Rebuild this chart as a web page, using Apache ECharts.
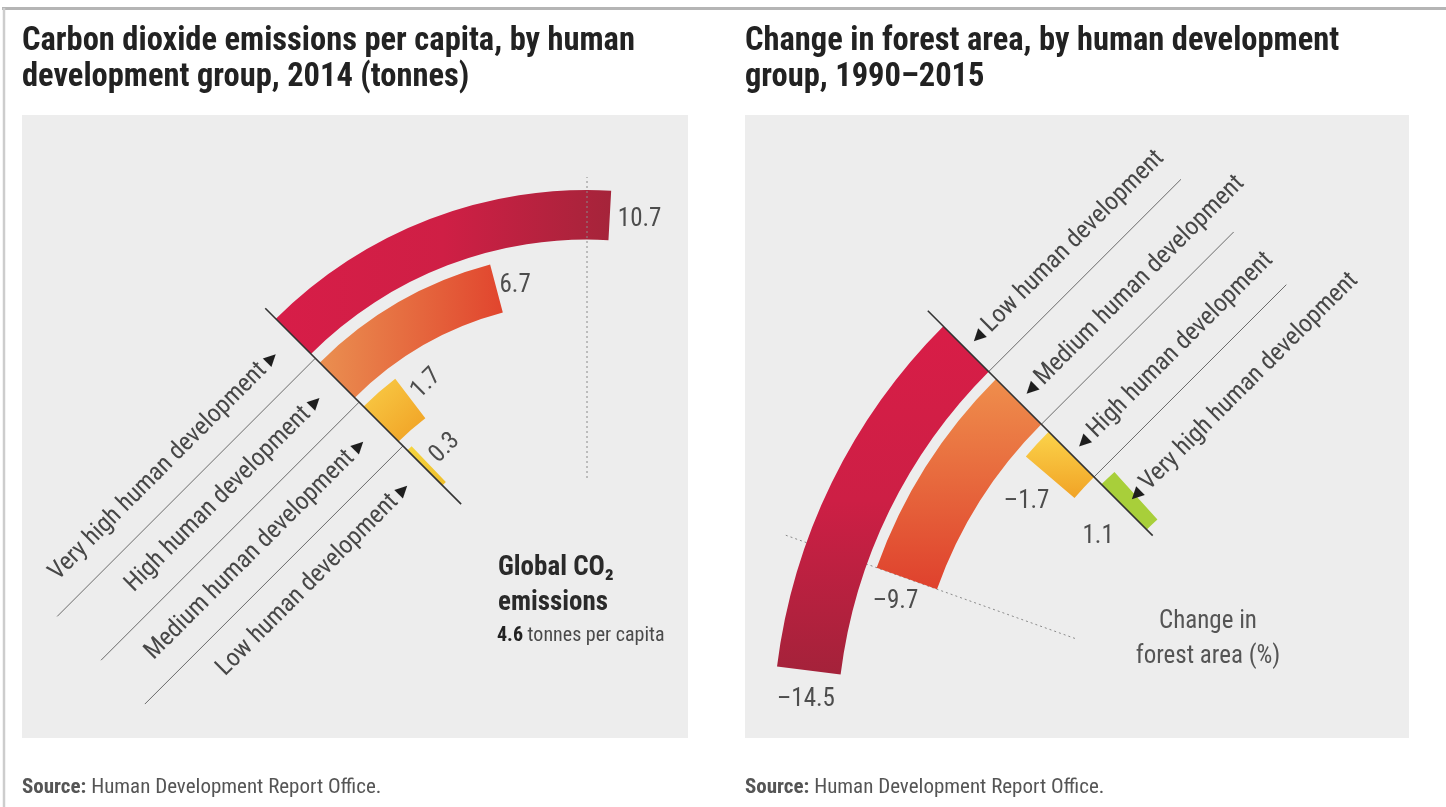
<!DOCTYPE html>
<html>
<head>
<meta charset="utf-8">
<title>Emissions and forest area by human development group</title>
<script src="https://cdn.jsdelivr.net/npm/echarts@6/dist/echarts.min.js"></script>
<style>
  html, body { margin: 0; padding: 0; background: #ffffff; }
  #chart { width: 1446px; height: 807px; }
</style>
</head>
<body>
<div id="chart"></div>
<script>
// ---------- data ----------
// groups are listed from the innermost ring to the outermost ring
const co2Groups = ['Low human development', 'Medium human development', 'High human development', 'Very high human development'];
const co2Values = [0.3, 1.7, 6.7, 10.7];          // tonnes per capita, 2014
const co2Global = 4.6;                            // world average, tonnes per capita
const co2GuideValue = 10;                         // dotted reference ray

const forestGroups = ['Very high human development', 'High human development', 'Medium human development', 'Low human development'];
const forestValues = [1.1, -1.7, -9.7, -14.5];    // % change in forest area, 1990-2015
const forestGuideValue = -9.7;                    // dotted reference ray

const titleLeft = ['Carbon dioxide emissions per capita, by human', 'development group, 2014 (tonnes)'];
const titleRight = ['Change in forest area, by human development', 'group, 1990\u20132015'];
const sourceLabel = 'Source:';
const sourceText = 'Human Development Report Office.';
const forestAxisName = ['Change in', 'forest area (%)'];

// ---------- layout & style ----------
const CONDENSED = '"Liberation Sans Narrow", "Roboto Condensed", "DejaVu Sans Condensed", Roboto, sans-serif';
const OVER = 700;   // overlay polar: radius value == pixels

const L = { cx: 587, cy: 630, r0: 198.3, r1: 446.2, gap: 0.2, min: -40, max: 40,
            axisR: [178, 455], guideR: [152, 453], leaderLen: 365, labelT: 25, dir: -1 };
const R = { cx: 1355.6, cy: 738.6, r0: 290.25, r1: 588.25, gap: 0.14, min: -68.85, max: 68.85,
            axisR: [287, 605], guideR: [298, 607], leaderLen: 272, labelT: 11, dir: 1 };

function degPerUnit(P) { return 360 / (P.max - P.min); }
function band(P) { return (P.r1 - P.r0) / 4; }
function ringInner(P, i) { return P.r0 + i * band(P) + band(P) * P.gap / 2; }
function ringOuter(P, i) { return ringInner(P, i) + band(P) * (1 - P.gap); }
function ringMid(P, i) { return (ringInner(P, i) + ringOuter(P, i)) / 2; }
// point reached by walking t pixels along the tangent at radius r on the zero ray
function tangentPoint(P, r, t) {
  return [Math.hypot(r, t), P.dir * Math.atan2(t, r) * 180 / Math.PI / degPerUnit(P)];
}

function lin(x2, y2, stops) {
  return { type: 'linear', x: 0, y: 0, x2: x2, y2: y2,
           colorStops: stops.map((c, i) => ({ offset: i / (stops.length - 1), color: c })) };
}
const co2Colors = [
  lin(1, 0, ['#f6d640', '#efbf2c']),
  lin(1, 1, ['#f9cd47', '#f09f23']),
  lin(1, 0, ['#ea8f50', '#e1452e']),
  lin(1, 0, ['#d71d48', '#cf1f45', '#a5243a'])
];
const forestColors = [
  '#a8cf3a',
  lin(0, 1, ['#fbd34a', '#f1a326']),
  lin(0, 1, ['#ef8e4c', '#df412d']),
  lin(0, 1, ['#d81d47', '#cd1f45', '#a4223a'])
];
// value label placement: anchor radius ('mid' | 'outer'), pixel shift, rotation
const co2LabelStyle = [
  { at: 'mid', dx: 5, dy: -5, rot: 45 },
  { at: 'mid', dx: 5, dy: -4, rot: 45 },
  { at: 'mid', dx: 3, dy: -3, rot: 0 },
  { at: 'mid', dx: 8, dy: 4, rot: 0 }
];
const forestLabelStyle = [
  { at: 'outer', dx: -32, dy: 65, rot: 0 },
  { at: 'outer', dx: -22, dy: 45, rot: 0 },
  { at: 'outer', dx: -4, dy: 34, rot: 0 },
  { at: 'outer', dx: 0, dy: 33, rot: 0 }
];

const hiddenAxis = { show: false, axisLine: { show: false }, axisTick: { show: false },
                     axisLabel: { show: false }, splitLine: { show: false } };

function angleAxisFor(P, idx) {
  return Object.assign({ polarIndex: idx, type: 'value', min: P.min, max: P.max,
                         startAngle: 315, clockwise: true }, hiddenAxis);
}

function lineSeries(polarIndex, data, style, z) {
  return { type: 'line', coordinateSystem: 'polar', polarIndex: polarIndex, data: data,
           symbol: 'none', silent: true, lineStyle: style, z: z || 4 };
}

function leaderSeries(P, polarIndex, radii) {
  return radii.map(r => lineSeries(polarIndex, [[r, 0], tangentPoint(P, r, P.leaderLen)],
                                   { color: '#6a6a6a', width: 1 }, 3));
}

const co2LeaderR = [1, 2, 3].map(k => L.r0 + k * band(L));
const forestLeaderR = [1, 2, 3].map(k => ringInner(R, k));

const series = [
  // 0: left zero ray (also used for coordinate conversion)
  lineSeries(1, [[L.axisR[0], 0], [L.axisR[1], 0]], { color: '#333', width: 1.6 }, 6),
  // 1: right zero ray
  lineSeries(3, [[R.axisR[0], 0], [R.axisR[1], 0]], { color: '#333', width: 1.6 }, 6),
  lineSeries(1, [[L.guideR[0], co2GuideValue], [L.guideR[1], co2GuideValue]],
             { color: '#8a8a8a', width: 1, type: [2, 3] }, 5),
  lineSeries(3, [[R.guideR[0], forestGuideValue], [R.guideR[1], forestGuideValue]],
             { color: '#8a8a8a', width: 1, type: [2, 3] }, 1),
  {
    type: 'bar', coordinateSystem: 'polar', polarIndex: 0, barCategoryGap: '20%', silent: true, z: 2,
    data: co2Values.map((v, i) => ({ value: v, itemStyle: { color: co2Colors[i] } }))
  },
  {
    type: 'bar', coordinateSystem: 'polar', polarIndex: 2, barCategoryGap: '14%', silent: true, z: 2,
    data: forestValues.map((v, i) => ({ value: v, itemStyle: { color: forestColors[i] } }))
  }
].concat(leaderSeries(L, 1, co2LeaderR), leaderSeries(R, 3, forestLeaderR));

const option = {
  backgroundColor: '#ffffff',
  animation: false,
  polar: [
    { center: [L.cx, L.cy], radius: [L.r0, L.r1] },
    { center: [L.cx, L.cy], radius: [0, OVER] },
    { center: [R.cx, R.cy], radius: [R.r0, R.r1] },
    { center: [R.cx, R.cy], radius: [0, OVER] }
  ],
  angleAxis: [angleAxisFor(L, 0), angleAxisFor(L, 1), angleAxisFor(R, 2), angleAxisFor(R, 3)],
  radiusAxis: [
    Object.assign({ polarIndex: 0, type: 'category', data: co2Groups }, hiddenAxis),
    Object.assign({ polarIndex: 1, type: 'value', min: 0, max: OVER }, hiddenAxis),
    Object.assign({ polarIndex: 2, type: 'category', data: forestGroups }, hiddenAxis),
    Object.assign({ polarIndex: 3, type: 'value', min: 0, max: OVER }, hiddenAxis)
  ],
  series: series
};

const chart = echarts.init(document.getElementById('chart'));
chart.setOption(option);

// ---------- text and frame, placed through the polar overlays ----------
const toPx = (seriesIndex, rv) => chart.convertToPixel({ seriesIndex: seriesIndex }, rv);
const fmt = v => (v < 0 ? '\u2013' + Math.abs(v) : String(v));

function text(x, y, str, style, extra) {
  return Object.assign({ type: 'text', x: x, y: y, z: 100, silent: true,
    style: Object.assign({ text: str, fontFamily: CONDENSED, fill: '#444' }, style) }, extra || {});
}

const g = [];
// frame and panels
g.push({ type: 'rect', z: -10, silent: true, shape: { x: 22, y: 115, width: 666, height: 623 }, style: { fill: '#ededed' } });
g.push({ type: 'rect', z: -10, silent: true, shape: { x: 745, y: 115, width: 664, height: 623 }, style: { fill: '#ededed' } });
g.push({ type: 'line', z: -5, silent: true, shape: { x1: 2, y1: 8.5, x2: 1446, y2: 8.5 }, style: { stroke: '#b5b5b5', lineWidth: 3 } });
g.push({ type: 'line', z: -5, silent: true, shape: { x1: 4, y1: 8, x2: 4, y2: 807 }, style: { stroke: '#cdcdcd', lineWidth: 2.5 } });

// titles
const titleStyle = { fontFamily: CONDENSED, fontWeight: 'bold', fontSize: 32.5, fill: '#222', verticalAlign: 'middle' };
[[22, titleLeft], [745, titleRight]].forEach(([x, lines]) => {
  lines.forEach((ln, k) => g.push(text(x, 42 + k * 36, ln, titleStyle)));
});

// sources
const srcRich = { b: { fontWeight: 'bold', fontSize: 21, fontFamily: CONDENSED, fill: '#555' } };
[22, 745].forEach(x => g.push(text(x, 788, '{b|' + sourceLabel + '} ' + sourceText,
  { fontSize: 21, fill: '#555', verticalAlign: 'middle', rich: srcRich })));

// category labels along the tangents
const triRich = {
  n: { fontFamily: CONDENSED, fontSize: 25, fill: '#474747' },
  t: { fontFamily: 'DejaVu Sans', fontSize: 16, fill: '#1e1e1e' }
};
co2Groups.forEach((name, i) => {
  const p = toPx(0, tangentPoint(L, ringMid(L, i), L.labelT));
  g.push(text(p[0], p[1], '{n|' + name + '}  {t|\u25B6}',
    { align: 'right', verticalAlign: 'middle', rich: triRich }, { rotation: Math.PI / 4 }));
});
forestGroups.forEach((name, i) => {
  const p = toPx(1, tangentPoint(R, ringMid(R, i), R.labelT));
  g.push(text(p[0], p[1], '{t|\u25C0}  {n|' + name + '}',
    { align: 'left', verticalAlign: 'middle', rich: triRich }, { rotation: Math.PI / 4 }));
});

// value labels at the end of each bar
function valueLabels(P, seriesIdx, values, styles) {
  values.forEach((v, i) => {
    const s = styles[i];
    const r = s.at === 'outer' ? ringOuter(P, i) : ringMid(P, i);
    const p = toPx(seriesIdx, [r, v]);
    g.push(text(p[0] + s.dx, p[1] + s.dy, fmt(v),
      { fontSize: 25, fill: '#4d4d4d', align: 'left', verticalAlign: 'middle' },
      { rotation: s.rot * Math.PI / 180 }));
  });
}
valueLabels(L, 0, co2Values, co2LabelStyle);
valueLabels(R, 1, forestValues, forestLabelStyle);

// global average note
g.push(text(498, 568, 'Global CO\u2082', { fontSize: 27, fontWeight: 'bold', fill: '#2a2a2a', verticalAlign: 'middle' }));
g.push(text(498, 603, 'emissions', { fontSize: 27, fontWeight: 'bold', fill: '#2a2a2a', verticalAlign: 'middle' }));
g.push(text(497, 636, '{b|' + co2Global + '} tonnes per capita',
  { fontSize: 20, fill: '#4a4a4a', verticalAlign: 'middle',
    rich: { b: { fontWeight: 'bold', fontSize: 20, fontFamily: CONDENSED, fill: '#222' } } }));

// forest axis caption
g.push(text(1208, 622, forestAxisName[0], { fontSize: 25, fill: '#555', align: 'center', verticalAlign: 'middle' }));
g.push(text(1208, 657, forestAxisName[1], { fontSize: 25, fill: '#555', align: 'center', verticalAlign: 'middle' }));

chart.setOption({ graphic: { elements: g } });
</script>
</body>
</html>
